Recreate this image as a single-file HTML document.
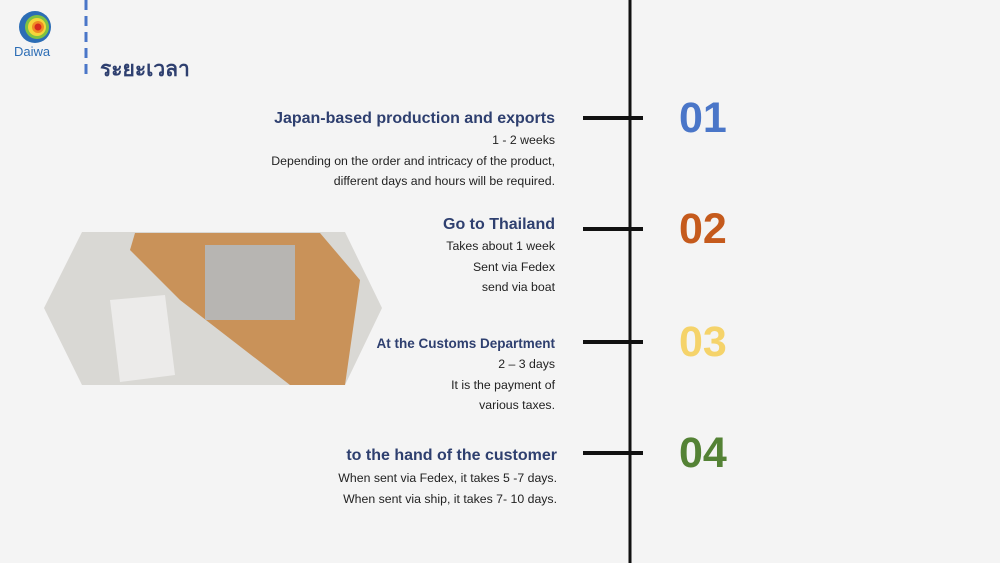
<!DOCTYPE html>
<html><head><style>
body{margin:0;width:1000px;height:563px;overflow:hidden;background:#f4f4f4;font-family:"Liberation Sans","Noto Sans CJK SC",sans-serif;position:relative}
.t{position:absolute;right:445px;text-align:right;color:#222;font-size:12.3px;line-height:20.5px;white-space:nowrap}
.h{font-weight:bold;color:#2e3f6f;font-size:16px;line-height:22px}
.n{position:absolute;left:679px;font-size:43px;font-weight:bold;line-height:44px}
.hl{position:absolute;left:583px;width:60px;height:4px;background:#111}
</style></head><body>
<svg width="1000" height="563" style="position:absolute;left:0;top:0">
<line x1="86" y1="0" x2="86" y2="78" stroke="#4a76c8" stroke-width="3" stroke-dasharray="10,6"/>
<rect x="628.5" y="0" width="3" height="563" fill="#111"/>
<circle cx="35" cy="27" r="16" fill="#2c6db5"/>
<circle cx="37" cy="27" r="12" fill="#7ec242"/>
<circle cx="37" cy="27" r="9" fill="#f5d53a"/>
<circle cx="38" cy="27" r="6" fill="#f08a24"/>
<circle cx="38" cy="27" r="3.5" fill="#d62a1e"/>
<text x="14" y="56" font-family="Liberation Sans" font-size="13" fill="#2c6db5">Daiwa</text>
<polygon points="44,308 82,232 345,232 382,308 345,385 82,385" fill="#d9d8d4"/>
<polygon points="135,233 320,233 360,280 345,385 290,385 180,300 130,250" fill="#c99259"/>
<rect x="205" y="245" width="90" height="75" fill="#b7b5b2"/>
<polygon points="110,300 165,295 175,375 120,382" fill="#ecebea"/>
</svg>
<div style="position:absolute;left:100px;top:53px;font-size:21px;font-weight:bold;color:#2e3f6f">ระยะเวลา</div>
<div class="hl" style="top:116px"></div><div class="hl" style="top:227px"></div><div class="hl" style="top:340px"></div><div class="hl" style="top:451px"></div>
<div class="n" style="top:96px;color:#4a76c8">01</div>
<div class="n" style="top:207px;color:#c55a1c">02</div>
<div class="n" style="top:320px;color:#f5d36a">03</div>
<div class="n" style="top:431px;color:#548235">04</div>
<div class="t" style="top:108px"><div class="h">Japan-based production and exports</div>1 - 2 weeks<br>Depending on the order and intricacy of the product,<br>different days and hours will be required.</div>
<div class="t" style="top:214px"><div class="h">Go to Thailand</div>Takes about 1 week<br>Sent via Fedex<br>send via boat</div>
<div class="t" style="top:333px"><div class="h" style="font-size:13.5px;line-height:21px">At the Customs Department</div>2 – 3 days<br>It is the payment of<br>various taxes.</div>
<div class="t" style="top:444px;right:443px"><div class="h" style="line-height:24px">to the hand of the customer</div>When sent via Fedex, it takes 5 -7 days.<br>When sent via ship, it takes 7- 10 days.</div>
</body></html>
